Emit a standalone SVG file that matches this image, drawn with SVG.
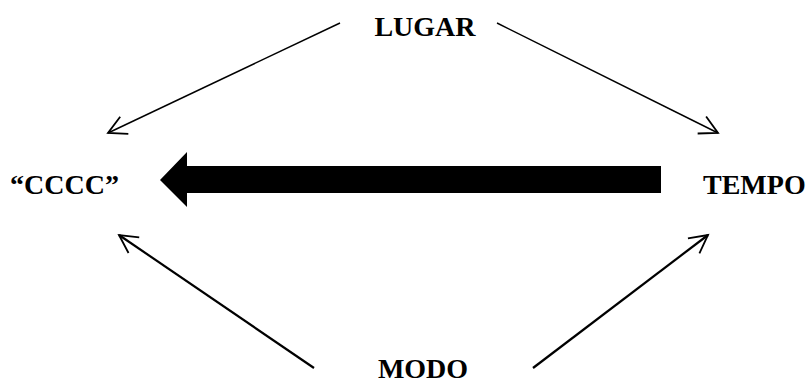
<svg xmlns="http://www.w3.org/2000/svg" width="811" height="385" viewBox="0 0 811 385">
<style>
.lbl{font-family:"Liberation Serif","Times New Roman",serif;font-weight:bold;font-size:28px;fill:#000}
.thin{stroke:#000;fill:none;stroke-width:1.5}
.thick{stroke:#000;fill:none;stroke-width:2.2}
</style>
<defs>
<marker id="open" markerUnits="userSpaceOnUse" markerWidth="30" markerHeight="30" viewBox="-22 -15 30 30" refX="0" refY="0" orient="auto" overflow="visible">
<path d="M-18,-9.5 L0,0 L-18,9.5" fill="none" stroke="#000" stroke-width="1.8"/>
</marker>
</defs>
<rect width="811" height="385" fill="#fff"/>
<g id="connectors">
<line class="thin" x1="340" y1="23" x2="108" y2="133" marker-end="url(#open)"/>
<line class="thin" x1="497" y1="23" x2="718" y2="133" marker-end="url(#open)"/>
<line class="thick" x1="314" y1="368" x2="119" y2="235" marker-end="url(#open)"/>
<line class="thick" x1="533" y1="368" x2="708" y2="235" marker-end="url(#open)"/>
<polygon id="big-arrow" points="661,166 187,166 187,152 160,180 187,207 187,193 661,193" fill="#000"/>
</g>
<g id="lugar"><text class="lbl" x="425" y="36" text-anchor="middle">LUGAR</text></g>
<g id="cccc"><text class="lbl" x="10" y="194">“CCCC”</text></g>
<g id="tempo"><text class="lbl" x="703" y="194">TEMPO</text></g>
<g id="modo"><text class="lbl" x="423" y="378" text-anchor="middle">MODO</text></g>
</svg>
